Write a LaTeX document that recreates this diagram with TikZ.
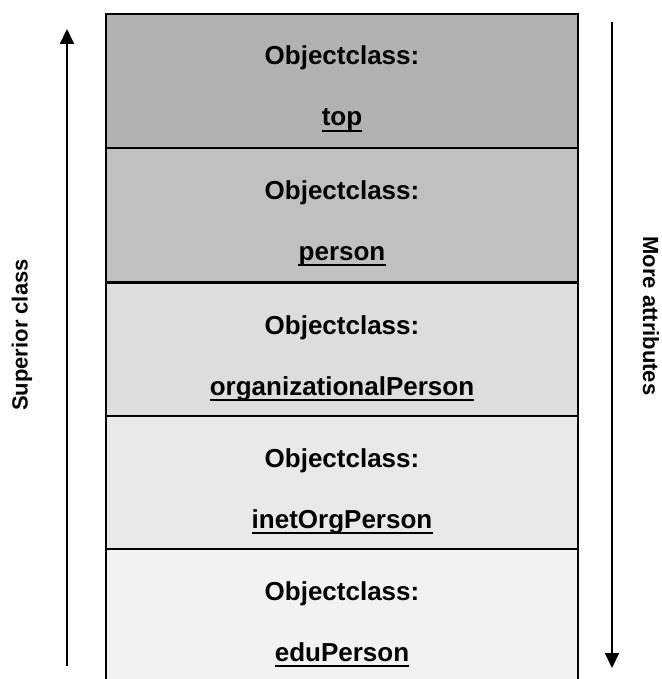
\documentclass[tikz,border=0pt]{standalone}
\usepackage{fontspec}
\setmainfont{Liberation Sans}
\usetikzlibrary{arrows.meta}
\definecolor{cA}{HTML}{B2B2B2}
\definecolor{cB}{HTML}{C0C0C0}
\definecolor{cC}{HTML}{DDDDDD}
\definecolor{cD}{HTML}{E9E9E9}
\definecolor{cE}{HTML}{F2F2F2}
\tikzset{
  rowbox/.style={draw=black, line width=2pt, anchor=north west, minimum width=472pt, minimum height=134pt, inner sep=0pt, outer sep=0pt},
  cls/.style={anchor=base, inner sep=0pt, font=\fontsize{26}{30}\selectfont\bfseries},
  side/.style={inner sep=0pt, font=\fontsize{22}{26}\selectfont\bfseries},
  uline/.style={line width=2pt},
  bigarrow/.style={line width=2pt, -{Triangle[length=15pt,width=14pt]}}
}
\begin{document}
\begin{tikzpicture}[x=1pt,y=-1pt]
\clip (0,0) rectangle (661,679);
\useasboundingbox (0,0) rectangle (661,679);
\node[rowbox, fill=cA] (r1) at (106,14) {};
\node[rowbox, fill=cB] (r2) at (106,148) {};
\node[rowbox, fill=cC] (r3) at (106,283) {};
\node[rowbox, fill=cD] (r4) at (106,416) {};
\node[rowbox, fill=cE] (r5) at (106,549) {};
\foreach \i/\t/\n in {1/14/top, 2/148/person, 3/283/organizationalPerson, 4/416/inetOrgPerson, 5/549/eduPerson}{
  \node[cls] (o\i) at (342,\t+51) {Objectclass:};
  \node[cls] (n\i) at (342,\t+112) {\n};
  \draw[uline] ([yshift=-5pt]n\i.base west) -- ([yshift=-5pt]n\i.base east);
}
\coordinate (lb) at (67,666);
\coordinate (lt) at (67,29);
\coordinate (rt) at (612,22);
\coordinate (rb) at (612,668);
\draw[bigarrow] (lb) -- (lt);
\draw[bigarrow] (rt) -- (rb);
\node[side, rotate=90] (sup) at (22,335) {Superior class};
\node[side, rotate=-90] (more) at (651,316) {More attributes};
\end{tikzpicture}
\end{document}
